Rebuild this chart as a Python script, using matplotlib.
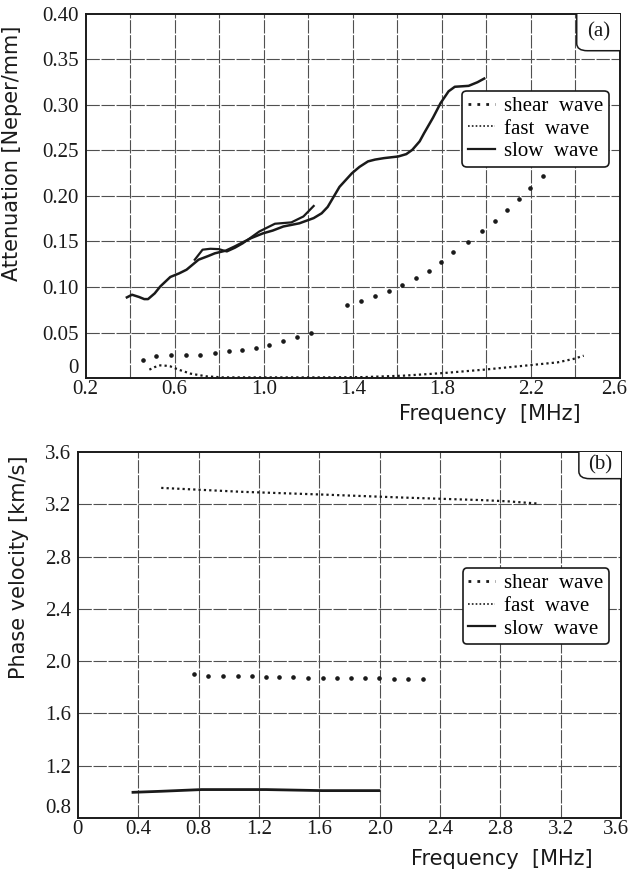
import matplotlib
matplotlib.use("Agg")
import matplotlib.pyplot as plt
from matplotlib.lines import Line2D
from matplotlib.patches import FancyBboxPatch
from matplotlib.transforms import ScaledTranslation

# ---------------- data: panel (a) attenuation ----------------
slow_f_a = [0.385, 0.408, 0.44, 0.463, 0.48, 0.51, 0.535, 0.58, 0.62, 0.653, 0.707, 0.75, 0.78,
            0.83, 0.87, 0.943, 0.997, 1.04, 1.088, 1.16, 1.224, 1.26, 1.287, 1.34, 1.396, 1.43,
            1.468, 1.5, 1.54, 1.604, 1.64, 1.667, 1.70, 1.72, 1.76, 1.794, 1.83, 1.858, 1.92,
            1.96, 1.99]
slow_att_a = [0.0886, 0.0915, 0.089, 0.0867, 0.0867, 0.093, 0.1006, 0.111, 0.115, 0.119, 0.130,
              0.134, 0.137, 0.140, 0.1446, 0.1537, 0.159, 0.162, 0.1665, 0.170, 0.1757, 0.181,
              0.188, 0.210, 0.225, 0.232, 0.238, 0.240, 0.2416, 0.2434, 0.246, 0.2507, 0.260,
              0.269, 0.286, 0.302, 0.315, 0.320, 0.321, 0.325, 0.329]
slow_f_b = [0.69, 0.725, 0.76, 0.798, 0.834, 0.87, 0.906, 0.94, 0.98, 1.05, 1.124, 1.178, 1.224]
slow_att_b = [0.130, 0.141, 0.142, 0.1416, 0.139, 0.143, 0.148, 0.154, 0.161, 0.1695, 0.171,
              0.1775, 0.189]

shear_f_a1 = [0.457, 0.517, 0.584, 0.649, 0.713, 0.78, 0.843, 0.903, 0.966, 1.024, 1.088,
              1.151, 1.214]
shear_att_a1 = [0.0194, 0.0245, 0.0256, 0.0256, 0.0256, 0.0275, 0.0293, 0.0304, 0.033, 0.0366,
                0.0403, 0.045, 0.050]
shear_f_a2 = [1.372, 1.435, 1.499, 1.562, 1.622, 1.682, 1.74, 1.798, 1.852, 1.916, 1.979, 2.037,
              2.093, 2.148, 2.198, 2.253]
shear_att_a2 = [0.0805, 0.0842, 0.0897, 0.0959, 0.1025, 0.1098, 0.118, 0.128, 0.1384, 0.149,
                0.162, 0.173, 0.185, 0.1966, 0.2086, 0.222]

fast_f_a = [0.486, 0.51, 0.535, 0.56, 0.58, 0.617, 0.671, 0.743, 0.816, 0.997, 1.27, 1.45, 1.63,
            1.81, 1.99, 2.17, 2.32, 2.39, 2.437]
fast_att_a = [0.0092, 0.012, 0.0139, 0.0135, 0.0128, 0.0092, 0.0048, 0.0018, 0.0007, 0.0007,
              0.0007, 0.001, 0.0026, 0.0055, 0.0092, 0.0135, 0.0172, 0.0209, 0.0245]

# ---------------- data: panel (b) phase velocity ----------------
fast_f_b = [0.553, 1.088, 1.622, 2.157, 2.691, 2.85, 3.052]
fast_v_b = [3.325, 3.295, 3.274, 3.251, 3.231, 3.222, 3.205]

shear_f_b = [0.772, 0.861, 0.959, 1.061, 1.154, 1.248, 1.333, 1.429, 1.528, 1.622, 1.715, 1.809,
             1.902, 1.996, 2.098, 2.189, 2.285]
shear_v_b = [1.90, 1.887, 1.887, 1.887, 1.884, 1.882, 1.879, 1.877, 1.874, 1.874, 1.874, 1.872,
             1.869, 1.869, 1.866, 1.864, 1.864]

slow_f_b2 = [0.366, 0.553, 0.82, 1.248, 1.622, 1.996]
slow_v_b2 = [0.996, 1.004, 1.017, 1.017, 1.009, 1.009]

# ticks
xticks_a = [0.2, 0.6, 1.0, 1.4, 1.8, 2.2, 2.6]
xtick_labels_a = ["0.2", "0.6", "1.0", "1.4", "1.8", "2.2", "2.6"]
xgrid_a = [0.4, 0.6, 0.8, 1.0, 1.2, 1.4, 1.6, 1.8, 2.0, 2.2, 2.4]
yticks_a = [0, 0.05, 0.10, 0.15, 0.20, 0.25, 0.30, 0.35, 0.40]
ytick_labels_a = ["0", "0.05", "0.10", "0.15", "0.20", "0.25", "0.30", "0.35", "0.40"]

xticks_b = [0, 0.4, 0.8, 1.2, 1.6, 2.0, 2.4, 2.8, 3.2, 3.6]
xtick_labels_b = ["0", "0.4", "0.8", "1.2", "1.6", "2.0", "2.4", "2.8", "3.2", "3.6"]
yticks_b = [0.8, 1.2, 1.6, 2.0, 2.4, 2.8, 3.2, 3.6]
ytick_labels_b = ["0.8", "1.2", "1.6", "2.0", "2.4", "2.8", "3.2", "3.6"]

legend_labels = ["shear  wave", "fast  wave", "slow  wave"]

SERIF = ["Liberation Serif", "DejaVu Serif"]
SANS = ["DejaVu Sans"]
INK = "#1a1a1a"
GRID = "#505050"

fig = plt.figure(figsize=(6.32, 8.72), dpi=100)
ax1 = fig.add_axes([0.1356, 0.5665, 0.981 - 0.1356, 0.984 - 0.5665])
ax2 = fig.add_axes([0.123, 0.062, 0.983 - 0.123, 0.4817 - 0.062])


def style_axes(ax, xt, xtl, yt, ytl, xgrid, ygrid):
    ax.set_xticks(xt)
    ax.set_xticklabels(xtl, fontfamily=SERIF, fontsize=15)
    ax.set_yticks(yt)
    ax.set_yticklabels(ytl, fontfamily=SERIF, fontsize=15)
    ax.tick_params(axis="y", length=0, pad=5, colors=INK)
    ax.tick_params(axis="x", length=0, pad=1.5, colors=INK)
    for x in xgrid:
        ax.axvline(x, color=GRID, lw=0.8, ls=(0, (12, 1.5)), zorder=0)
    for y in ygrid:
        ax.axhline(y, color=GRID, lw=0.8, ls=(0, (12, 1.5)), zorder=0)
    for s in ax.spines.values():
        s.set_color(INK)
        s.set_linewidth(1.4)
    # lowest y label sits on the axis line, last x label nudged inside the figure
    ax.get_yticklabels()[0].set_va("bottom")
    last = ax.get_xticklabels()[-1]
    last.set_transform(last.get_transform() + ScaledTranslation(-4 / 72, 0, fig.dpi_scale_trans))


def tag_box(ax, text, x0, y0):
    box = FancyBboxPatch((x0, y0), 0.3, 0.3, transform=ax.transAxes,
                         boxstyle="round,pad=0,rounding_size=0.02",
                         fc="white", ec=INK, lw=1.1, clip_on=True, zorder=4)
    ax.add_patch(box)
    box.set_clip_path(ax.patch)
    ax.text((x0 + 1) / 2, (y0 + 1) / 2, text, transform=ax.transAxes, ha="center", va="center",
            fontfamily=SERIF, fontsize=15, color=INK, zorder=5)


def add_legend(ax, anchor):
    handles = [
        Line2D([], [], color=INK, lw=2.0, ls=(0, (1.0, 2.2))),
        Line2D([], [], color=INK, lw=1.2, ls=(0, (1.0, 1.3))),
        Line2D([], [], color=INK, lw=1.6, ls="-"),
    ]
    leg = ax.legend(handles, legend_labels, loc="upper left", bbox_to_anchor=anchor,
                    borderaxespad=0, prop={"family": SERIF, "size": 15},
                    handlelength=1.3, handletextpad=0.45, labelspacing=0.15,
                    borderpad=0.25, fancybox=True, framealpha=1, edgecolor=INK)
    leg.get_frame().set_linewidth(1.2)
    leg.set_zorder(6)


# ---------------- panel (a) ----------------
style_axes(ax1, xticks_a, xtick_labels_a, yticks_a, ytick_labels_a, xgrid_a, yticks_a[1:-1])
ax1.set_xlim(0.2, 2.6)
ax1.set_ylim(0, 0.40)
ax1.plot(slow_f_a, slow_att_a, color=INK, lw=1.8, zorder=3)
ax1.plot(slow_f_b, slow_att_b, color=INK, lw=1.6, zorder=3)
ax1.plot(fast_f_a, fast_att_a, color=INK, lw=1.6, ls=(0, (1.0, 1.4)), zorder=3)
ax1.plot(shear_f_a1, shear_att_a1, ls="none", marker="o", ms=2.3, color=INK, zorder=3)
ax1.plot(shear_f_a2, shear_att_a2, ls="none", marker="o", ms=2.3, color=INK, zorder=3)
tag_box(ax1, "(a)", 0.919, 0.899)
add_legend(ax1, (0.705, 0.788))
ax1.set_xlabel("Frequency  [MHz]", fontfamily=SANS, fontsize=15, color=INK)
ax1.xaxis.set_label_coords(0.757, -0.072)
ax1.set_ylabel("Attenuation [Neper/mm]", fontfamily=SANS, fontsize=15, color=INK)
ax1.yaxis.set_label_coords(-0.12, 0.618)

# ---------------- panel (b) ----------------
style_axes(ax2, xticks_b, xtick_labels_b, yticks_b, ytick_labels_b, xticks_b[1:-1], yticks_b[1:-1])
ax2.set_xlim(0, 3.6)
ax2.set_ylim(0.8, 3.6)
ax2.plot(fast_f_b, fast_v_b, color=INK, lw=1.6, ls=(0, (1.0, 1.4)), zorder=3)
ax2.plot(shear_f_b, shear_v_b, ls="none", marker="o", ms=2.3, color=INK, zorder=3)
ax2.plot(slow_f_b2, slow_v_b2, color=INK, lw=2.0, zorder=3)
tag_box(ax2, "(b)", 0.922, 0.927)
add_legend(ax2, (0.708, 0.682))
ax2.set_xlabel("Frequency  [MHz]", fontfamily=SANS, fontsize=15, color=INK)
ax2.xaxis.set_label_coords(0.781, -0.086)
ax2.set_ylabel("Phase velocity [km/s]", fontfamily=SANS, fontsize=15, color=INK)
ax2.yaxis.set_label_coords(-0.09, 0.686)

fig.savefig("out.png", dpi=100, facecolor="white")
